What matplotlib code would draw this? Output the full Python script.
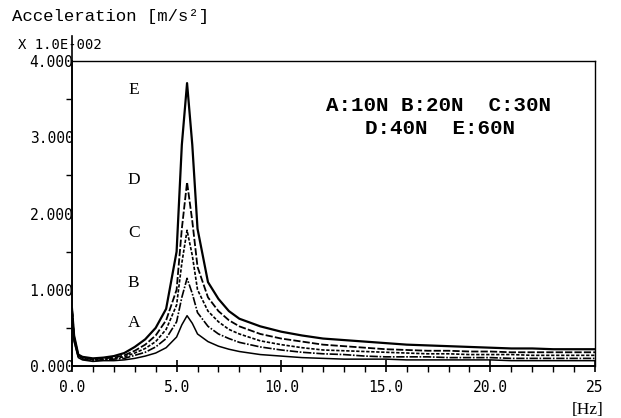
import matplotlib
matplotlib.use("Agg")
import matplotlib.pyplot as plt
from matplotlib.ticker import MultipleLocator, FixedLocator

freq = [0, 0.1, 0.3, 0.5, 1, 1.5, 2, 2.5, 3, 3.5, 4, 4.5, 5, 5.25, 5.5, 5.75, 6, 6.5, 7, 7.5, 8,
        9, 10, 11, 12, 13, 14, 15, 16, 17, 18, 19, 20, 21, 22, 23, 24, 25]

acc_E = [0.75, 0.40, 0.15, 0.12, 0.10, 0.11, 0.13, 0.17, 0.25, 0.35, 0.50, 0.75, 1.50, 2.90, 3.71, 2.90, 1.80, 1.10,
         0.88, 0.72, 0.62, 0.52, 0.45, 0.40, 0.36, 0.34, 0.32, 0.30, 0.28, 0.27, 0.26, 0.25, 0.24,
         0.23, 0.23, 0.22, 0.22, 0.22]
acc_D = [0.75, 0.38, 0.14, 0.11, 0.09, 0.10, 0.11, 0.14, 0.20, 0.28, 0.40, 0.60, 1.00, 1.80, 2.41, 1.90, 1.30, 0.90,
         0.72, 0.60, 0.52, 0.42, 0.36, 0.32, 0.28, 0.26, 0.24, 0.22, 0.21, 0.20, 0.20, 0.19, 0.19,
         0.18, 0.18, 0.18, 0.18, 0.18]
acc_C = [0.75, 0.36, 0.13, 0.10, 0.08, 0.09, 0.10, 0.12, 0.17, 0.23, 0.32, 0.48, 0.80, 1.35, 1.78, 1.45, 1.00, 0.72,
         0.58, 0.48, 0.42, 0.33, 0.28, 0.24, 0.21, 0.20, 0.19, 0.18, 0.17, 0.16, 0.16, 0.15, 0.15,
         0.15, 0.14, 0.14, 0.14, 0.14]
acc_B = [0.75, 0.34, 0.12, 0.09, 0.07, 0.08, 0.09, 0.10, 0.14, 0.18, 0.25, 0.36, 0.58, 0.90, 1.15, 0.95, 0.70, 0.52,
         0.42, 0.36, 0.31, 0.25, 0.21, 0.18, 0.16, 0.15, 0.13, 0.12, 0.12, 0.12, 0.11, 0.11, 0.11,
         0.10, 0.10, 0.10, 0.10, 0.10]
acc_A = [0.75, 0.32, 0.11, 0.08, 0.06, 0.07, 0.07, 0.08, 0.10, 0.13, 0.17, 0.24, 0.38, 0.54, 0.66, 0.56, 0.42, 0.32,
         0.26, 0.22, 0.19, 0.15, 0.13, 0.11, 0.10, 0.09, 0.09, 0.09, 0.08, 0.08, 0.08, 0.08, 0.08,
         0.07, 0.07, 0.07, 0.07, 0.07]

curve_names = ["E", "D", "C", "B", "A"]
label_y = [3.62, 2.44, 1.74, 1.09, 0.56]
legend_lines = ["A:10N B:20N  C:30N", "D:40N  E:60N"]
xticks = [0, 5, 10, 15, 20, 25]
xtick_labels = ["0.0", "5.0", "10.0", "15.0", "20.0", "25"]
yticks = [0, 1, 2, 3, 4]
ytick_labels = ["0.000", "1.000", "2.000", "3.000", "4.000"]

fig = plt.figure(figsize=(6.21, 4.18), dpi=100)
ax = fig.add_axes([72/621, 1-366/418, (595-72)/621, (366-61)/418])

styles = [
    dict(ls="-", lw=1.6),
    dict(ls=(0, (4, 1.2)), lw=1.3),
    dict(ls=(0, (2, 1)), lw=1.2),
    dict(ls=(0, (5, 1, 1, 1)), lw=1.2),
    dict(ls="-", lw=1.1),
]
for data, st in zip([acc_E, acc_D, acc_C, acc_B, acc_A], styles):
    ax.plot(freq, data, color="black", **st)

ax.set_xlim(0, 25)
ax.set_ylim(0, 4)
for s in ax.spines.values():
    s.set_linewidth(1.0)
ax.spines["left"].set_linewidth(1.4)
ax.spines["bottom"].set_linewidth(1.4)

ax.xaxis.set_major_locator(FixedLocator(xticks))
ax.set_xticklabels(xtick_labels, family="DejaVu Sans Mono", fontsize=10.5)
ax.xaxis.set_minor_locator(MultipleLocator(1))
ax.yaxis.set_major_locator(FixedLocator(yticks))
ax.set_yticklabels(ytick_labels, family="DejaVu Sans Mono", fontsize=10.5)
ax.yaxis.set_minor_locator(MultipleLocator(0.5))
ax.tick_params(axis="x", which="major", direction="inout", length=8, width=1.2, pad=6)
ax.tick_params(axis="x", which="minor", direction="out", length=4, width=1.0)
ax.tick_params(axis="y", which="major", direction="out", length=0, pad=-1)
ax.tick_params(axis="y", which="minor", direction="out", length=4, width=1.0)
ax.tick_params(top=False, right=False)

# extended y axis line above the frame
ax.plot([0, 0], [4, 4.33], color="black", lw=1.2, clip_on=False)

for name, yv in zip(curve_names, label_y):
    ax.text(2.95, yv, name, family="Liberation Serif", fontsize=12.5, ha="center", va="center")

ax.text(17.5, 3.41, legend_lines[0], family="Liberation Mono", fontsize=15, fontweight="bold",
        ha="center", va="center")
ax.text(17.6, 3.11, legend_lines[1], family="Liberation Mono", fontsize=15, fontweight="bold",
        ha="center", va="center")

fig.text(12/621, 1-17/418, "Acceleration [m/s²]", family="Liberation Mono", fontsize=12.5,
         ha="left", va="center")
fig.text(18/621, 1-45/418, "X 1.0E-002", family="DejaVu Sans Mono", fontsize=10,
         ha="left", va="center")
fig.text(588/621, 1-410/418, "[Hz]", family="Liberation Serif", fontsize=12.5,
         ha="center", va="center")

fig.savefig("out.png", dpi=100)
